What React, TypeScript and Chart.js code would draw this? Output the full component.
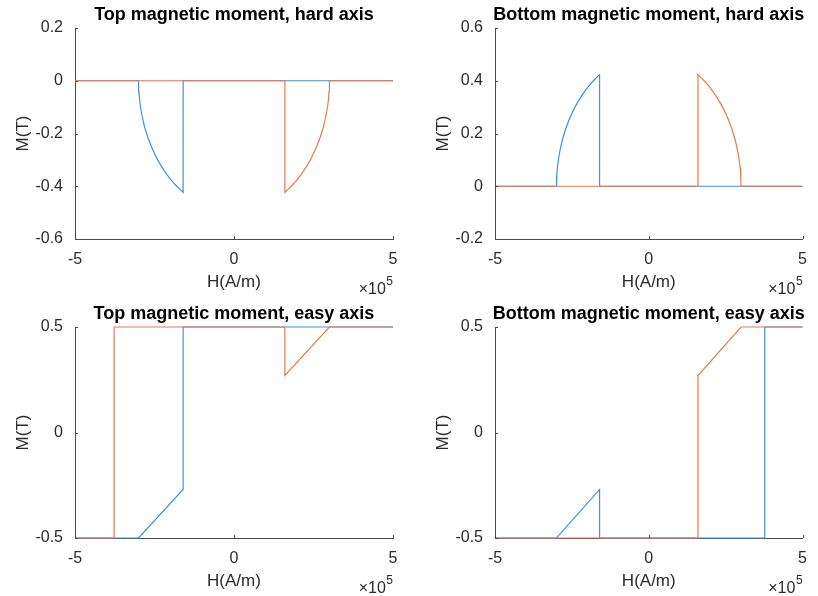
import React, { useEffect, useRef } from 'react';
import { Chart, registerables } from 'chart.js';

Chart.register(...registerables);

const W = 818;
const H = 596;
const BLUE = '#3d93d6';
const ORANGE = '#e47a50';
const AXIS = '#4a4a4a';
const TEXT = '#2b2b2b';
const FONT = '"Liberation Sans", Arial, Helvetica, sans-serif';

// x axis (A/m), tick labels in units of 1e5
const xTickValues = [-500000, 0, 500000];
const xTickLabels = ['-5', '0', '5'];

// y ticks per panel
const yTicksTopHard = [-0.6, -0.4, -0.2, 0, 0.2];
const yLabelsTopHard = ['-0.6', '-0.4', '-0.2', '0', '0.2'];
const yTicksBottomHard = [-0.2, 0, 0.2, 0.4, 0.6];
const yLabelsBottomHard = ['-0.2', '0', '0.2', '0.4', '0.6'];
const yTicksEasy = [-0.5, 0, 0.5];
const yLabelsEasy = ['-0.5', '0', '0.5'];

// ---- Top magnetic moment, hard axis ----
const topHardBlueH = [500000, -160000, -160000, -170000, -180000, -190000, -200000, -210000, -220000, -230000, -240000, -250000, -260000, -270000, -280000, -285000, -290000, -295000, -297000, -299000, -300000, -500000];
const topHardBlueM = [0, 0, -0.423, -0.412, -0.4, -0.387, -0.373, -0.357, -0.34, -0.321, -0.3, -0.276, -0.249, -0.218, -0.18, -0.156, -0.128, -0.091, -0.071, -0.041, 0, 0];
const topHardOrangeH = [-500000, 160000, 160000, 170000, 180000, 190000, 200000, 210000, 220000, 230000, 240000, 250000, 260000, 270000, 280000, 285000, 290000, 295000, 297000, 299000, 300000, 500000];
const topHardOrangeM = [0, 0, -0.423, -0.412, -0.4, -0.387, -0.373, -0.357, -0.34, -0.321, -0.3, -0.276, -0.249, -0.218, -0.18, -0.156, -0.128, -0.091, -0.071, -0.041, 0, 0];

// ---- Bottom magnetic moment, hard axis ----
const bottomHardBlueH = [500000, -160000, -160000, -170000, -180000, -190000, -200000, -210000, -220000, -230000, -240000, -250000, -260000, -270000, -280000, -285000, -290000, -295000, -297000, -299000, -300000, -500000];
const bottomHardBlueM = [0, 0, 0.423, 0.412, 0.4, 0.387, 0.373, 0.357, 0.34, 0.321, 0.3, 0.276, 0.249, 0.218, 0.18, 0.156, 0.128, 0.091, 0.071, 0.041, 0, 0];
const bottomHardOrangeH = [-500000, 160000, 160000, 170000, 180000, 190000, 200000, 210000, 220000, 230000, 240000, 250000, 260000, 270000, 280000, 285000, 290000, 295000, 297000, 299000, 300000, 500000];
const bottomHardOrangeM = [0, 0, 0.423, 0.412, 0.4, 0.387, 0.373, 0.357, 0.34, 0.321, 0.3, 0.276, 0.249, 0.218, 0.18, 0.156, 0.128, 0.091, 0.071, 0.041, 0, 0];

// ---- Top magnetic moment, easy axis ----
const topEasyBlueH = [500000, -160000, -160000, -300000, -500000];
const topEasyBlueM = [0.5, 0.5, -0.27, -0.5, -0.5];
const topEasyOrangeH = [-500000, -377000, -377000, 160000, 160000, 300000, 500000];
const topEasyOrangeM = [-0.5, -0.5, 0.5, 0.5, 0.27, 0.5, 0.5];

// ---- Bottom magnetic moment, easy axis ----
const bottomEasyBlueH = [500000, 377000, 377000, -160000, -160000, -300000, -500000];
const bottomEasyBlueM = [0.5, 0.5, -0.5, -0.5, -0.27, -0.5, -0.5];
const bottomEasyOrangeH = [-500000, 160000, 160000, 300000, 500000];
const bottomEasyOrangeM = [-0.5, -0.5, 0.27, 0.5, 0.5];

// layout of the four axes (pixels in the figure)
const YW = 70;
const XH = 55;

type Panel = {
  title: string;
  rect: { left: number; right: number; top: number; bottom: number };
  yMin: number;
  yMax: number;
  yTicks: number[];
  yLabels: string[];
  blueH: number[];
  blueM: number[];
  orangeH: number[];
  orangeM: number[];
};

const panels: Panel[] = [
  {
    title: 'Top magnetic moment, hard axis',
    rect: { left: 75, right: 393, top: 28, bottom: 239 },
    yMin: -0.6, yMax: 0.2, yTicks: yTicksTopHard, yLabels: yLabelsTopHard,
    blueH: topHardBlueH, blueM: topHardBlueM, orangeH: topHardOrangeH, orangeM: topHardOrangeM,
  },
  {
    title: 'Bottom magnetic moment, hard axis',
    rect: { left: 495, right: 812, top: 28, bottom: 239 },
    yMin: -0.2, yMax: 0.6, yTicks: yTicksBottomHard, yLabels: yLabelsBottomHard,
    blueH: bottomHardBlueH, blueM: bottomHardBlueM, orangeH: bottomHardOrangeH, orangeM: bottomHardOrangeM,
  },
  {
    title: 'Top magnetic moment, easy axis',
    rect: { left: 75, right: 393, top: 327, bottom: 538 },
    yMin: -0.5, yMax: 0.5, yTicks: yTicksEasy, yLabels: yLabelsEasy,
    blueH: topEasyBlueH, blueM: topEasyBlueM, orangeH: topEasyOrangeH, orangeM: topEasyOrangeM,
  },
  {
    title: 'Bottom magnetic moment, easy axis',
    rect: { left: 495, right: 812, top: 327, bottom: 538 },
    yMin: -0.5, yMax: 0.5, yTicks: yTicksEasy, yLabels: yLabelsEasy,
    blueH: bottomEasyBlueH, blueM: bottomEasyBlueM, orangeH: bottomEasyOrangeH, orangeM: bottomEasyOrangeM,
  },
];

const decorPlugin = {
  id: 'matlabDecor',
  afterDraw(chart: any, _args: any, opts: any) {
    const { ctx, chartArea: a, scales } = chart;
    ctx.save();
    // inward tick marks
    ctx.strokeStyle = AXIS;
    ctx.lineWidth = 1;
    ctx.beginPath();
    for (const t of scales.x.ticks) {
      const px = Math.round(scales.x.getPixelForValue(t.value)) + 0.5;
      ctx.moveTo(px, a.bottom);
      ctx.lineTo(px, a.bottom - 3);
    }
    for (const t of scales.y.ticks) {
      const py = Math.round(scales.y.getPixelForValue(t.value)) + 0.5;
      ctx.moveTo(a.left, py);
      ctx.lineTo(a.left + 3, py);
    }
    ctx.stroke();
    // title
    ctx.fillStyle = '#000';
    ctx.font = `bold 18px ${FONT}`;
    ctx.textAlign = 'center';
    ctx.textBaseline = 'middle';
    ctx.fillText(opts.title, (a.left + a.right) / 2, a.top - 13);
    // exponent label  x10^5
    ctx.fillStyle = TEXT;
    ctx.textAlign = 'right';
    ctx.font = `12px ${FONT}`;
    const w5 = ctx.measureText('5').width;
    ctx.fillText('5', a.right, a.bottom + 43);
    ctx.font = `16px ${FONT}`;
    ctx.fillText('\u00d710', a.right - w5 - 0.5, a.bottom + 51);
    ctx.restore();
  },
};

function buildConfig(p: Panel): any {
  const toPts = (hs: number[], ms: number[]) => hs.map((h, i) => ({ x: h, y: ms[i] }));
  return {
    type: 'line',
    data: {
      datasets: [
        {
          data: toPts(p.orangeH, p.orangeM),
          borderColor: ORANGE,
          borderWidth: 1.2,
          pointRadius: 0,
          tension: 0,
          fill: false,
          clip: false,
        },
        {
          data: toPts(p.blueH, p.blueM),
          borderColor: BLUE,
          borderWidth: 1.2,
          pointRadius: 0,
          tension: 0,
          fill: false,
          clip: false,
        },
      ],
    },
    options: {
      responsive: false,
      animation: false,
      events: [],
      layout: {
        padding: {
          left: p.rect.left - YW,
          right: W - p.rect.right,
          top: p.rect.top,
          bottom: H - p.rect.bottom - XH,
        },
      },
      plugins: {
        legend: { display: false },
        title: { display: false },
        tooltip: { enabled: false },
        matlabDecor: { title: p.title },
      },
      scales: {
        x: {
          type: 'linear',
          min: -500000,
          max: 500000,
          afterBuildTicks: (s: any) => {
            s.ticks = xTickValues.map((v) => ({ value: v }));
          },
          afterFit: (s: any) => {
            s.height = XH;
          },
          grid: { display: true, drawOnChartArea: false, drawTicks: false },
          border: { display: true, color: AXIS, width: 1 },
          ticks: {
            autoSkip: false,
            maxRotation: 0,
            padding: 11,
            color: TEXT,
            font: { family: FONT, size: 16 },
            callback: (v: number) => xTickLabels[xTickValues.indexOf(v)],
          },
          title: {
            display: true,
            text: 'H(A/m)',
            color: TEXT,
            font: { family: FONT, size: 17 },
            padding: { top: 0, bottom: 1 },
          },
        },
        y: {
          type: 'linear',
          min: p.yMin,
          max: p.yMax,
          afterBuildTicks: (s: any) => {
            s.ticks = p.yTicks.map((v) => ({ value: v }));
          },
          afterFit: (s: any) => {
            s.width = YW;
          },
          grid: { display: true, drawOnChartArea: false, drawTicks: false },
          border: { display: true, color: AXIS, width: 1 },
          ticks: {
            autoSkip: false,
            padding: 12,
            color: TEXT,
            font: { family: FONT, size: 16 },
            callback: (v: number) => p.yLabels[p.yTicks.indexOf(v)],
          },
          title: {
            display: true,
            text: 'M(T)',
            color: TEXT,
            font: { family: FONT, size: 17 },
            padding: { top: 8, bottom: 0 },
          },
        },
      },
    },
    plugins: [decorPlugin],
  };
}

function PanelChart({ p }: { p: Panel }) {
  const ref = useRef<HTMLCanvasElement | null>(null);
  useEffect(() => {
    if (!ref.current) return;
    const chart = new Chart(ref.current, buildConfig(p));
    return () => chart.destroy();
  }, [p]);
  return (
    <canvas
      ref={ref}
      width={W}
      height={H}
      style={{ position: 'absolute', left: 0, top: 0, width: W, height: H }}
    />
  );
}

export default function App() {
  return (
    <div style={{ position: 'absolute', left: 0, top: 0, width: W, height: H, background: '#fff' }}>
      {panels.map((p, i) => (
        <PanelChart key={i} p={p} />
      ))}
    </div>
  );
}
